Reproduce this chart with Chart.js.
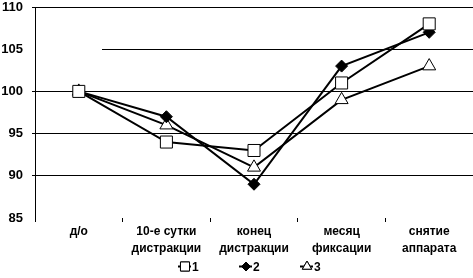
<!DOCTYPE html>
<html><head><meta charset="utf-8">
<script src="https://cdn.jsdelivr.net/npm/chart.js@4/dist/chart.umd.min.js"></script>
<style>html,body{margin:0;padding:0;background:#fff}#w{width:473px;height:278px}</style>
</head><body><div id="w"><canvas id="c"></canvas></div>
<script>
const categories = [["д/о"], ["10-е сутки", "дистракции"], ["конец", "дистракции"], ["месяц", "фиксации"], ["снятие", "аппарата"]];
const series1 = [100, 94, 93, 101, 108];
const series2 = [100, 97, 89, 103, 107];
const series3 = [100, 96, 91, 99, 103];
const seriesNames = ["1", "2", "3"];
const yMin = 85, yMax = 110, yStep = 5;

const FONT = 'Liberation Sans, Arial, sans-serif';

// gridline at 105 drawn only partially (as in the reference)
const partialGrid = {
  id: 'partialGrid',
  beforeDatasetsDraw(chart) {
    const y = chart.scales.y, a = chart.chartArea, ctx = chart.ctx;
    const py = Math.round(y.getPixelForValue(105)) + 0.5;
    ctx.save(); ctx.strokeStyle = '#000'; ctx.lineWidth = 1;
    ctx.beginPath(); ctx.moveTo(a.left + (a.right - a.left) * 0.153, py); ctx.lineTo(a.right, py); ctx.stroke();
    ctx.restore();
  }
};

// compact legend: short line + marker + label
const miniLegend = {
  id: 'miniLegend',
  afterDraw(chart) {
    const ctx = chart.ctx, a = chart.chartArea;
    const sizes = [6.4, 4.5, 5.4];
    const pitch = 61;
    const start = a.left + 143;
    const cy = 266.5;
    ctx.save();
    chart.data.datasets.forEach((d, i) => {
      const x0 = start + i * pitch;
      ctx.strokeStyle = '#000'; ctx.lineWidth = 2;
      ctx.beginPath(); ctx.moveTo(x0, cy); ctx.lineTo(x0 + 13, cy); ctx.stroke();
      ctx.lineWidth = 1; ctx.fillStyle = d.pointBackgroundColor;
      Chart.helpers.drawPoint(ctx, {pointStyle: d.pointStyle, radius: sizes[i], borderWidth: 1}, x0 + 7, cy);
      ctx.fill(); ctx.stroke();
      ctx.fillStyle = '#000'; ctx.font = 'bold 12px ' + FONT; ctx.textBaseline = 'alphabetic'; ctx.textAlign = 'left';
      ctx.fillText(d.label, x0 + 14, cy + 4.5);
    });
    ctx.restore();
  }
};

const mk = (label, data, style, fill, r) => ({
  label, data, borderColor: '#000', borderWidth: 2, backgroundColor: fill,
  pointStyle: style, pointRadius: r, pointHoverRadius: r, pointBorderColor: '#000', pointBorderWidth: 1,
  pointBackgroundColor: fill, tension: 0, fill: false
});

new Chart(document.getElementById('c'), {
  type: 'line',
  data: {
    labels: categories,
    datasets: [
      mk(seriesNames[0], series1, 'rect', '#fff', 8.5),
      mk(seriesNames[1], series2, 'rectRot', '#000', 6),
      mk(seriesNames[2], series3, 'triangle', '#fff', 7.5)
    ]
  },
  plugins: [partialGrid, miniLegend],
  options: {
    responsive: true, maintainAspectRatio: false, animation: false,
    layout: {autoPadding: false, padding: {top: 7, right: 0, left: 0, bottom: 0}},
    plugins: {
      tooltip: {enabled: false},
      legend: {display: false}
    },
    scales: {
      x: {
        offset: true,
        afterFit(s) { s.height = 60; s.paddingLeft = 0; s.paddingRight = 0; },
        grid: {offset: true, drawOnChartArea: false, drawTicks: true, tickLength: 4,
               color: c => (c.index === categories.length) ? 'transparent' : '#000', lineWidth: 1},
        border: {display: false},
        ticks: {color: '#000', font: {family: FONT, size: 12, weight: 'bold', lineHeight: 1.35}, padding: 2, maxRotation: 0, autoSkip: false}
      },
      y: {
        min: yMin, max: yMax,
        afterFit(s) { s.width = 35; s.paddingTop = 0; s.paddingBottom = 0; },
        grid: {color: c => (c.tick.value === yMin || c.tick.value === 105) ? 'transparent' : '#000', lineWidth: 1, drawTicks: true, tickLength: 3},
        border: {display: true, color: '#000', width: 1},
        ticks: {stepSize: yStep, color: '#000', font: {family: FONT, size: 13, weight: 'bold'}, padding: 9}
      }
    }
  }
});
</script></body></html>
